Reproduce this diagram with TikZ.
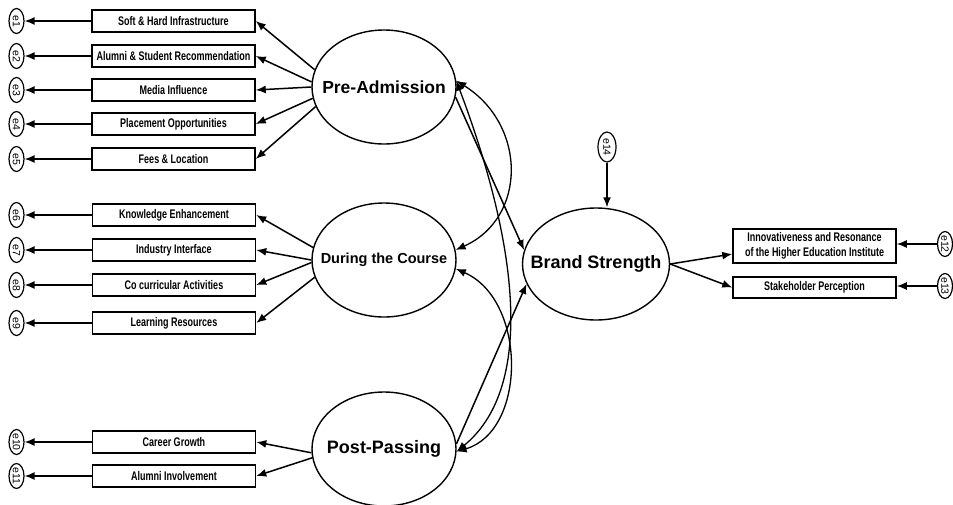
\documentclass[tikz,border=0pt]{standalone}
\usepackage{fontspec}
\setmainfont{Liberation Sans}
\newfontfamily\narrowf[FakeStretch=0.72]{Liberation Sans}
\usetikzlibrary{shapes.geometric,arrows.meta,calc}
\begin{document}
\begin{tikzpicture}[x=1pt,y=-1pt,
  err/.style={ellipse,draw,line width=1.2pt,rotate=-90,minimum width=25pt,minimum height=15pt,inner sep=0pt,font=\fontsize{10.5}{10.5}\selectfont},
  ind/.style={rectangle,draw,line width=1.5pt,minimum width=163pt,minimum height=22pt,inner sep=1pt,font=\narrowf\bfseries\fontsize{12.5}{14.5}\selectfont},
  lat/.style={ellipse,draw,line width=1.4pt,minimum width=144pt,minimum height=114pt,inner sep=0pt},
  arr/.style={-{Latex[length=10pt,width=8pt]},line width=1.5pt},
  cov/.style={{Latex[length=10pt,width=8pt]}-{Latex[length=10pt,width=8pt]},line width=1.3pt}]
\useasboundingbox (0,0) rectangle (953,504);

% latent variables (text placed as centre label so the ellipse keeps its size)
\node[lat,label={[font=\bfseries\fontsize{17.5}{18}\selectfont]center:Pre-Admission}] (pa) at (384,87) {};
\node[lat,label={[font=\bfseries\fontsize{14.5}{15}\selectfont]center:During the Course}] (dc) at (384,260) {};
\node[lat,label={[font=\bfseries\fontsize{18}{18}\selectfont]center:Post-Passing}] (pp) at (384,449) {};
\node[lat,minimum width=147pt,minimum height=112pt,label={[font=\bfseries\fontsize{18}{18}\selectfont]center:Brand Strength}] (bs) at (596,264) {};

% indicators
\node[ind] (i1) at (173.5,21) {Soft \& Hard Infrastructure};
\node[ind] (i2) at (173.5,56) {Alumni \& Student Recommendation};
\node[ind] (i3) at (173.5,90) {Media Influence};
\node[ind] (i4) at (173.5,124) {Placement Opportunities};
\node[ind] (i5) at (173.5,159) {Fees \& Location};
\node[ind] (i6) at (174,215) {Knowledge Enhancement};
\node[ind] (i7) at (174,250) {Industry Interface};
\node[ind] (i8) at (174,285) {Co curricular Activities};
\node[ind] (i9) at (174,323) {Learning Resources};
\node[ind] (i10) at (174,442) {Career Growth};
\node[ind] (i11) at (174,476) {Alumni Involvement};
\node[ind,minimum height=34pt,align=center] (i12) at (814.5,246) {Innovativeness and Resonance\\of the Higher Education Institute};
\node[ind,minimum height=21pt] (i13) at (814.5,287.5) {Stakeholder Perception};

% errors
\node[err] (e1) at (16.5,21) {e1};
\node[err] (e2) at (16.5,56) {e2};
\node[err] (e3) at (16.5,90) {e3};
\node[err] (e4) at (16.5,124) {e4};
\node[err] (e5) at (16.5,159) {e5};
\node[err] (e6) at (16.5,215) {e6};
\node[err] (e7) at (16.5,250) {e7};
\node[err] (e8) at (16.5,285) {e8};
\node[err] (e9) at (16.5,323) {e9};
\node[err] (e10) at (16.5,442) {e10};
\node[err] (e11) at (16.5,476) {e11};
\node[err] (e12) at (945,244) {e12};
\node[err] (e13) at (945,286) {e13};
\node[err,minimum width=30pt,minimum height=18pt] (e14) at (607,147) {e14};

% indicator -> error
\foreach \k in {1,...,11} {\draw[arr] (i\k.west) -- (e\k);}
\draw[arr] (e12) -- (e12 -| i12.east);
\draw[arr] (e13) -- (e13 -| i13.east);
\draw[arr] (e14) -- (e14 |- bs.north);

% latent -> indicators
\draw[arr] (pa.166) -- (i1.east);
\draw[arr] (pa.176) -- (i2.east);
\draw[arr] (pa.180) -- (i3.east);
\draw[arr] (pa.189) -- (i4.east);
\draw[arr] (pa.196) -- (i5.east);
\draw[arr] (dc.170) -- (i6.east);
\draw[arr] (dc.180) -- (i7.east);
\draw[arr] (dc.182) -- (i8.east);
\draw[arr] (dc.194) -- (i9.east);
\draw[arr] (pp.183) -- (i10.east);
\draw[arr] (pp.187) -- (i11.east);
\draw[arr] (bs.east) -- ([yshift=-8pt]i12.west);
\draw[arr] (bs.east) -- (i13.west);

% structural paths
\draw[arr] (pa.352) -- (bs.169);
\draw[arr] (pp.4) -- (bs.196);

% covariances
\draw[cov] (pa.5) .. controls (527,125) and (527,218) .. (dc.8);
\draw[cov] (pa.5) .. controls (522,255) and (532,390) .. (pp.358);
\draw[cov] (dc.353) .. controls (527,300) and (527,431) .. (pp.358);
\end{tikzpicture}
\end{document}
